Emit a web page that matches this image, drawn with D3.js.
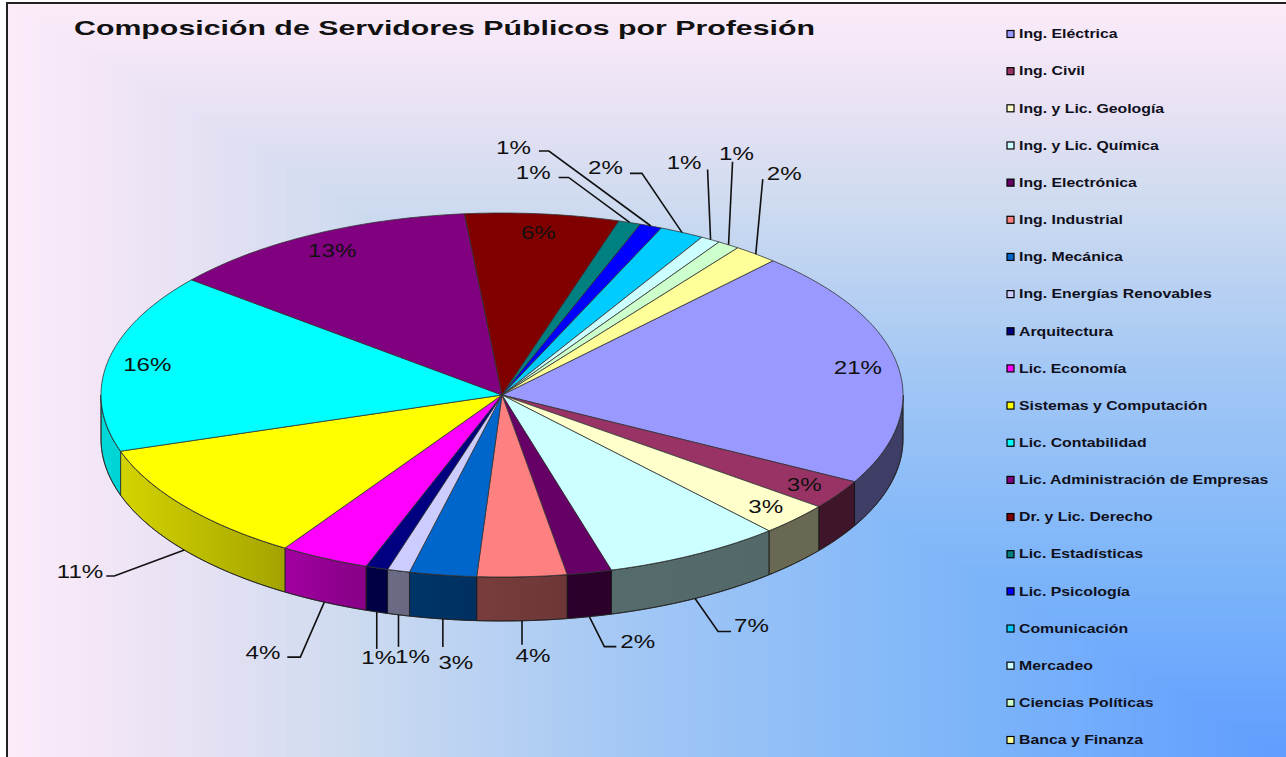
<!DOCTYPE html>
<html>
<head>
<meta charset="utf-8">
<script src="https://cdn.jsdelivr.net/npm/d3@7"></script>
<style>
  body { margin: 0; background: #fff; }
  text { font-family: Arial, "Liberation Sans", sans-serif; }
</style>
</head>
<body>
<script>
// ---- data (percent of servers per profession) ----
var categories = ["Ing. Eléctrica", "Ing. Civil", "Ing. y Lic. Geología", "Ing. y Lic. Química",
  "Ing. Electrónica", "Ing. Industrial", "Ing. Mecánica", "Ing. Energías Renovables", "Arquitectura",
  "Lic. Economía", "Sistemas y Computación", "Lic. Contabilidad", "Lic. Administración de Empresas",
  "Dr. y Lic. Derecho", "Lic. Estadísticas", "Lic. Psicología", "Comunicación", "Mercadeo",
  "Ciencias Políticas", "Banca y Finanza"];
var values = [21.1, 2.6, 2.9, 7.2, 1.8, 3.6, 2.7, 0.9, 0.9, 3.6, 10.9, 15.9, 12.6, 6.2, 0.9, 0.9, 1.8, 0.8, 0.9, 1.8];
var colors = ["#9999FF", "#993366", "#FFFFCC", "#CCFFFF", "#660066", "#FF8080", "#0066CC", "#CCCCFF", "#000080",
  "#FF00FF", "#FFFF00", "#00FFFF", "#800080", "#800000", "#008080", "#0000FF", "#00CCFF", "#CCFFFF", "#CCFFCC", "#FFFF99"];
var titleText = "Composición de Servidores Públicos por Profesión";

// labels drawn on the slice top; all others get a leader line
var insideLabels = ["Ing. Eléctrica", "Ing. Civil", "Ing. y Lic. Geología", "Lic. Contabilidad",
  "Lic. Administración de Empresas", "Dr. y Lic. Derecho"];

// leader layout: elbow offset from anchor (dx,dy), horizontal tail, text offset from tail end
var leader = {
  "Ing. y Lic. Química":      { dx: 23,   dy: 33,  tail: 13,  tx: 3,   ty: -6, anchor: "start" },
  "Ing. Electrónica":         { dx: 15,   dy: 30,  tail: 12,  tx: 4,   ty: -5, anchor: "start" },
  "Ing. Industrial":          { dx: 0,    dy: 24,  tail: 0,   tx: 11,  ty: 11, anchor: "middle" },
  "Ing. Mecánica":            { dx: 0,    dy: 28,  tail: 0,   tx: 13,  ty: 15, anchor: "middle" },
  "Ing. Energías Renovables": { dx: 0,    dy: 32,  tail: 0,   tx: 14,  ty: 10, anchor: "middle" },
  "Arquitectura":             { dx: 0,    dy: 37,  tail: 0,   tx: 2,   ty: 9,  anchor: "middle" },
  "Lic. Economía":            { dx: -24,  dy: 55,  tail: -13, tx: -7,  ty: -5, anchor: "end" },
  "Sistemas y Computación":   { dx: -70,  dy: 26,  tail: -8,  tx: -3,  ty: -5, anchor: "end" },
  "Lic. Estadísticas":        { dx: -61,  dy: -45, tail: -10, tx: -8,  ty: -5, anchor: "end" },
  "Lic. Psicología":          { dx: -102, dy: -75, tail: -10, tx: -8,  ty: -4, anchor: "end" },
  "Comunicación":             { dx: -40,  dy: -59, tail: -12, tx: -7,  ty: -6, anchor: "end" },
  "Mercadeo":                 { dx: -3,   dy: -70, tail: 0,   tx: -6,  ty: -7, anchor: "end" },
  "Ciencias Políticas":       { dx: 4,    dy: -83, tail: 0,   tx: 4,   ty: -8, anchor: "middle" },
  "Banca y Finanza":          { dx: 7,    dy: -75, tail: 0,   tx: 4,   ty: -6, anchor: "start" }
};

var W = 1286, H = 757;
var cx = 502, cy = 395, rx = 401, ry = 182, depth = 44;   // 3D pie ellipse
var stretch = 1.27;                                         // picture is stretched sideways
var deg = Math.PI / 180;

var data = categories.map(function (c, i) { return { name: c, value: values[i], color: colors[i] }; });
var total = d3.sum(values);

var svg = d3.select("body").append("svg")
  .attr("width", W)
  .attr("height", H);

var defs = svg.append("defs");

// ---- background: corner gradient (min of x,y fractions), built from stacked rects ----
var frame = { x: 7, y: 3, w: W - 7, h: H - 3 };
var bg = d3.scaleLinear()
  .domain([0, 0.13, 0.26, 0.5, 0.75, 1])
  .range(["#fcebf9", "#e9e2f4", "#cfdbf0", "#a0c6f5", "#7db5f9", "#5f9dff"])
  .interpolate(d3.interpolateRgb);
var steps = d3.range(0, 1, 1 / 160);
svg.append("g").selectAll("rect")
  .data(steps)
  .enter().append("rect")
  .attr("x", function (t) { return frame.x + t * frame.w; })
  .attr("y", function (t) { return frame.y + t * frame.h; })
  .attr("width", function (t) { return (1 - t) * frame.w + 1; })
  .attr("height", function (t) { return (1 - t) * frame.h + 1; })
  .attr("fill", function (t) { return bg(t); });

svg.append("rect")
  .attr("x", frame.x).attr("y", frame.y)
  .attr("width", frame.w + 10).attr("height", frame.h + 10)
  .attr("fill", "none").attr("stroke", "#222").attr("stroke-width", 2);

// ---- pie geometry ----
var pie = d3.pie().sort(null).value(function (d) { return d.value; })
  .startAngle(42.5 * deg).endAngle(42.5 * deg + 2 * Math.PI);
var arcs = pie(data);

function px(a, f) { return cx + rx * f * Math.sin(a); }
function py(a, f) { return cy - ry * f * Math.cos(a); }
function rim(a0, a1, dy) {
  var n = Math.max(2, Math.ceil((a1 - a0) / deg)), pts = [];
  for (var i = 0; i <= n; i++) {
    var a = a0 + (a1 - a0) * i / n;
    pts.push([px(a, 1), py(a, 1) + dy]);
  }
  return pts;
}
var line = d3.line();

// side shading: darker toward the right
var shade = defs.append("linearGradient")
  .attr("id", "shade").attr("gradientUnits", "userSpaceOnUse")
  .attr("x1", cx - rx).attr("x2", cx + rx).attr("y1", 0).attr("y2", 0);
[[0, 0.15], [0.2, 0.33], [0.3, 0.45], [0.45, 0.52], [0.6, 0.58], [1, 0.6]].forEach(function (s) {
  shade.append("stop").attr("offset", s[0]).attr("stop-color", "#000").attr("stop-opacity", s[1]);
});

var g = svg.append("g");

// side walls (front half only: 90..270 degrees)
var front0 = 90 * deg, front1 = 270 * deg;
arcs.forEach(function (d) {
  var s = Math.max(d.startAngle, front0), e = Math.min(d.endAngle, front1);
  if (e <= s) return;
  var pts = rim(s, e, 0).concat(rim(s, e, depth).reverse());
  g.append("path")
    .attr("d", line(pts) + "Z")
    .attr("fill", d.data.color)
    .attr("stroke", "#333")
    .attr("stroke-width", 0.8);
});
g.append("path")
  .attr("d", line(rim(front0, front1, 0).concat(rim(front0, front1, depth).reverse())) + "Z")
  .attr("fill", "url(#shade)")
  .attr("stroke", "#222")
  .attr("stroke-width", 0.8);

// top faces
g.selectAll(".slice")
  .data(arcs)
  .enter().append("path")
  .attr("class", "slice")
  .attr("d", function (d) { return line([[cx, cy]].concat(rim(d.startAngle, d.endAngle, 0))) + "Z"; })
  .attr("fill", function (d) { return d.data.color; })
  .attr("stroke", "#333")
  .attr("stroke-width", 0.8)
  .attr("stroke-linejoin", "round");

// ---- percentage labels ----
function pct(d) { return Math.round(d.data.value / total * 100) + "%"; }
function label(x, y, txt, anchor) {
  g.append("g")
    .attr("transform", "translate(" + x + "," + y + ") scale(" + stretch + ",1)")
    .append("text")
    .attr("text-anchor", anchor)
    .attr("dominant-baseline", "central")
    .attr("font-size", 19)
    .attr("fill", "#111")
    .text(txt);
}

arcs.forEach(function (d) {
  var mid = (d.startAngle + d.endAngle) / 2;
  if (insideLabels.indexOf(d.data.name) >= 0) {
    label(px(mid, 0.9), py(mid, 0.9), pct(d), "middle");
    return;
  }
  var L = leader[d.data.name];
  var isFront = mid > front0 && mid < front1;
  var ax = px(mid, 1), ay = py(mid, 1) + (isFront ? depth : 0);
  var ex = ax + L.dx, ey = ay + L.dy, tx = ex + L.tail;
  g.append("path")
    .attr("d", line([[ax, ay], [ex, ey], [tx, ey]]))
    .attr("fill", "none")
    .attr("stroke", "#111")
    .attr("stroke-width", 1.6);
  label(tx + L.tx, ey + L.ty, pct(d), L.anchor);
});

// ---- legend ----
var ly = d3.scalePoint().domain(categories).range([34, 740]);
var legend = svg.append("g").selectAll("g")
  .data(data)
  .enter().append("g")
  .attr("transform", function (d) { return "translate(1007," + ly(d.name) + ")"; });
legend.append("rect")
  .attr("x", 0).attr("y", -3.5)
  .attr("width", 7).attr("height", 7)
  .attr("fill", function (d) { return d.color; })
  .attr("stroke", "#000")
  .attr("stroke-width", 1.2);
legend.append("g")
  .attr("transform", "translate(12,0) scale(1.32,1)")
  .append("text")
  .attr("dominant-baseline", "central")
  .attr("font-size", 12)
  .attr("font-weight", "bold")
  .attr("fill", "#10101c")
  .text(function (d) { return d.name; });

// ---- title ----
svg.append("g")
  .attr("transform", "translate(74,35) scale(" + stretch + ",1)")
  .append("text")
  .attr("font-size", 21)
  .attr("font-weight", "bold")
  .attr("fill", "#111")
  .attr("textLength", 741 / stretch)
  .attr("lengthAdjust", "spacingAndGlyphs")
  .text(titleText);
</script>
</body>
</html>
